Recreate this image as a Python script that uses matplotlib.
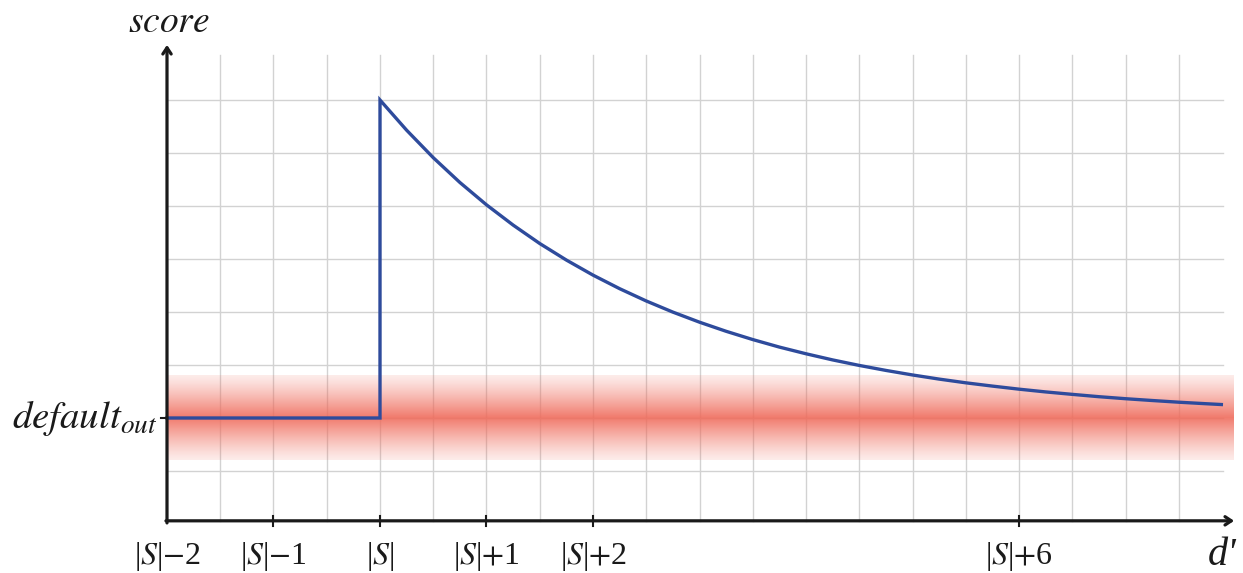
import numpy as np
import matplotlib
matplotlib.use("Agg")
import matplotlib.pyplot as plt

plt.rcParams['mathtext.fontset'] = 'stix'
plt.rcParams['font.family'] = ['Liberation Serif', 'DejaVu Serif']

# d' measured from |S| (0 == |S|), score relative to default_out (0 == default_out)
flat_x = [-2.0, 0.0]
flat_y = [0.0, 0.0]
curve_x = [0.0, 0.25, 0.5, 0.75, 1.0, 1.25, 1.5, 1.75, 2.0, 2.25, 2.5, 2.75,
           3.0, 3.25, 3.5, 3.75, 4.0, 4.25, 4.5, 4.75, 5.0, 5.25, 5.5, 5.75,
           6.0, 6.25, 6.5, 6.75, 7.0, 7.25, 7.5, 7.75, 7.9]
curve_y = [3.000, 2.715, 2.456, 2.222, 2.011, 1.820, 1.646, 1.490, 1.348, 1.220,
           1.104, 0.999, 0.904, 0.818, 0.740, 0.669, 0.606, 0.548, 0.496, 0.449,
           0.406, 0.367, 0.332, 0.301, 0.272, 0.246, 0.223, 0.201, 0.182, 0.165,
           0.149, 0.135, 0.127]

tick_pos = [-2, -1, 0, 1, 2, 6]
tick_labels = [r'|$S$|$-$2', r'|$S$|$-$1', r'|$S$|',
               r'|$S$|$+$1', r'|$S$|$+$2', r'|$S$|$+$6']

fig = plt.figure(figsize=(12.43, 5.73), dpi=100)
ax = fig.add_axes([0, 0, 1, 1])
ax.set_xlim(-380 / 106.5, (1243 - 380) / 106.5)
ax.set_ylim((418 - 573) / 106, 418 / 106)
ax.axis('off')

x0, y0 = -2.0, -0.97
x_end, y_end = 7.92, 3.42

# grid
for gx in np.arange(-1.5, 7.6, 0.5):
    ax.plot([gx, gx], [y0, y_end], color='#d2d2d2', lw=1.0, zorder=1)
for gy in np.arange(-0.5, 3.01, 0.5):
    ax.plot([x0, x_end], [gy, gy], color='#d2d2d2', lw=1.0, zorder=1)

# red band around default_out
yy = np.linspace(-1, 1, 200)
d = np.abs(yy)
alpha = 0.13 + 0.77 * (1 - d) ** 1.2
rgba = np.zeros((200, 1, 4))
rgba[:, 0, 0] = 0.94
rgba[:, 0, 1] = 0.42
rgba[:, 0, 2] = 0.36
rgba[:, 0, 3] = alpha
ax.imshow(rgba, extent=[x0, 8.01, -0.4, 0.4], aspect='auto',
          interpolation='bilinear', zorder=2)

# score line
line_x = flat_x + curve_x
line_y = flat_y + curve_y
ax.plot(line_x, line_y, color='#2e4b9c', lw=2.4, zorder=4,
        solid_joinstyle='miter')

# axes with arrows
ax.annotate('', xy=(x0, 3.52), xytext=(x0, y0 - 0.02),
            arrowprops=dict(arrowstyle='->,head_length=0.45,head_width=0.3',
                            lw=2.3, color='#1a1a1a', shrinkA=0, shrinkB=0),
            zorder=5)
ax.annotate('', xy=(8.02, y0), xytext=(x0 - 0.01, y0),
            arrowprops=dict(arrowstyle='->,head_length=0.45,head_width=0.3',
                            lw=2.3, color='#1a1a1a', shrinkA=0, shrinkB=0),
            zorder=5)

# ticks
for tx, tl in zip(tick_pos, tick_labels):
    if tx != x0:
        ax.plot([tx, tx], [y0 - 0.05, y0 + 0.05], color='#1a1a1a', lw=1.5, zorder=5)
    ax.text(tx, -1.38, tl, ha='center', va='baseline', fontsize=23, color='#1a1a1a')
ax.plot([x0 - 0.06, x0], [0, 0], color='#1a1a1a', lw=1.5, zorder=5)

ax.text(-2.09, -0.094, r'$\mathit{default}_{\mathit{out}}$', ha='right', va='baseline',
        fontsize=28, color='#1a1a1a')
ax.text(-1.98, 3.64, r'$\mathit{score}$', ha='center', va='baseline',
        fontsize=27, color='#1a1a1a')
ax.text((1237 - 380) / 106.5, -1.39, "d'", ha='right', va='baseline',
        fontsize=29, fontstyle='italic', color='#1a1a1a')

fig.savefig('out.png', dpi=100)
